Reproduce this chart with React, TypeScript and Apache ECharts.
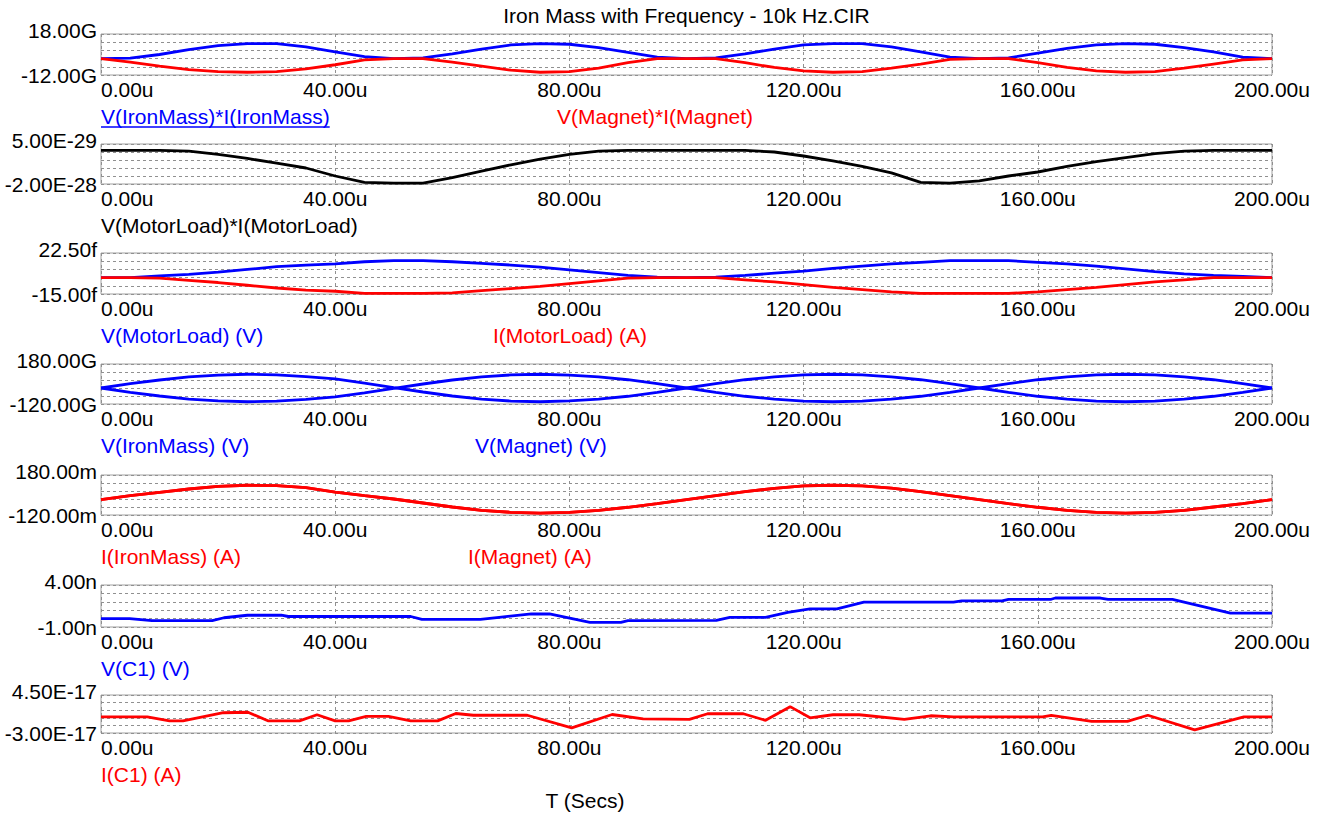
import React, { useEffect, useRef } from "react";
import * as echarts from "echarts";

const W = 1326;
const H = 814;
const FONT = '"Liberation Sans", Arial, Helvetica, sans-serif';
const FS = 21;
const BLUE = "#0000ff";
const RED = "#ff0000";
const BLACK = "#000000";

const TITLE = "Iron Mass with Frequency - 10k Hz.CIR";
const X_TITLE = "T (Secs)";

// time grid (microseconds)
const TIME_US = [0, 5, 10, 15, 20, 25, 30, 35, 40, 45, 50, 55, 60, 65, 70, 75, 80, 85, 90, 95, 100,
  105, 110, 115, 120, 125, 130, 135, 140, 145, 150, 155, 160, 165, 170, 175, 180, 185, 190, 195, 200];

// Panel 1 (G)
const P_IRON_G = [0, 0.3, 3, 6.5, 9.5, 11, 11, 8.5, 5, 1.5, 0, 0.5, 3.5, 7, 10, 11, 10.5, 8, 4.5, 1, 0,
  0.5, 3.5, 7, 10, 11, 11, 8.5, 5, 1, 0, 0.5, 4, 7.5, 10, 11, 10.5, 8, 5, 1, 0];
const P_MAGNET_G = [0, -2.5, -5.5, -8, -9.5, -10, -9.5, -7.5, -4.5, -1, 0, 0, -2.5, -5.5, -8.5, -10, -9.5, -7, -3, 0, 0,
  0, -3, -6.5, -9, -10, -9.5, -7, -4, -0.5, 0, 0, -3, -6.5, -9, -10, -9.5, -7, -4, -1, 0];

// Panel 2 (E-29)
const P_MOTOR_E29 = [1, 1, 1, 0.5, -1.5, -4, -7, -10, -15, -19, -19.5, -19.5, -16, -12, -8, -4.5, -1.5, 0.5, 1, 1, 1,
  1, 1, 0, -2.5, -5.5, -9, -13, -19, -19.5, -18, -15, -12.5, -9, -6, -3.5, -1, 0.5, 1, 1, 1];

// Panel 3 (f)
const V_MOTOR_F = [0, 0, 1.5, 3, 5, 7.5, 10, 11.5, 12.5, 14.5, 15.5, 15.5, 14.5, 13, 11.5, 9.5, 7, 4.5, 2, 0.5, 0,
  0.5, 2, 4, 6, 8.5, 10.5, 12.5, 14, 15.5, 15.5, 15.5, 14, 12.5, 10.5, 8, 5.5, 3.5, 2, 1, 0];
const I_MOTOR_F = [0, 0, -0.5, -2.5, -4.5, -7, -9.5, -11.5, -12.5, -14.5, -14.5, -14.5, -14, -12, -10, -8, -5.5, -3, -0.5, 0, 0,
  0, -2, -4, -6.5, -9, -11, -13, -14.5, -14.5, -14.5, -14.5, -13, -11, -9, -6.5, -4, -2, 0, 0, 0];

// Panel 4 (G)
const V_IRON_G = [0, 33, 60, 83, 97, 103, 98, 85, 68, 36, 2, -30, -60, -84, -98, -103, -97, -84, -62, -33, 0,
  33, 62, 84, 98, 103, 98, 84, 62, 33, 0, -33, -62, -84, -98, -103, -98, -84, -62, -33, 0];
const V_MAGNET_G = [0, -33, -60, -83, -97, -103, -98, -85, -66, -36, -2, 30, 60, 84, 98, 103, 97, 84, 62, 33, 0,
  -33, -62, -84, -98, -103, -98, -84, -62, -33, 0, 33, 62, 84, 98, 103, 98, 84, 62, 33, 0];

// Panel 5 (m)
const I_IRON_M = [-5, 25, 50, 75, 95, 103, 100, 85, 52, 25, 0, -30, -60, -85, -100, -106, -100, -85, -62, -35, -5,
  25, 55, 80, 98, 103, 98, 82, 55, 25, -5, -35, -62, -85, -100, -106, -100, -85, -60, -35, -5];
const I_MAGNET_M = [-5, 25, 50, 75, 95, 103, 100, 85, 52, 25, 0, -30, -60, -85, -100, -106, -100, -85, -62, -35, -5,
  25, 55, 80, 98, 103, 98, 82, 55, 25, -5, -35, -62, -85, -100, -106, -100, -85, -60, -35, -5];

// Panel 6 (n)
const VC1_T = [0, 4.9, 8.7, 19, 21, 25, 30.8, 32, 52.9, 54.8, 64.8, 68, 73.5, 76.6, 83.5, 88.8, 90, 105.1, 107.4, 113.5,
  117.3, 121.1, 125.7, 130.3, 145.6, 147, 153.9, 155, 162.3, 163, 170.7, 172, 183, 192.9, 200];
const VC1_N = [0, 0, -0.25, -0.25, 0.1, 0.4, 0.4, 0.25, 0.25, -0.1, -0.1, 0.15, 0.55, 0.55, -0.45, -0.45, -0.25, -0.2, 0.15, 0.15,
  0.75, 1.15, 1.15, 1.95, 1.95, 2.1, 2.1, 2.3, 2.3, 2.45, 2.45, 2.3, 2.3, 0.65, 0.65];

// Panel 7 (E-17)
const IC1_T = [0, 7.9, 11.7, 14, 20.9, 25.1, 28.5, 33.9, 36.9, 40, 42.3, 45.3, 49.1, 52.9, 57.5, 60.6, 63.6, 72.8, 80.4, 87.3,
  92.6, 100.5, 103.6, 109.7, 113.5, 117.7, 121.1, 125, 129.5, 137.2, 141.7, 145.6, 160.8, 162.3, 169.2, 175.3, 178.8, 186.8, 195.2, 200];
const IC1_E17 = [0.2, 0.2, -0.6, -0.6, 1.0, 1.1, -0.6, -0.6, 0.6, -0.6, -0.6, 0.3, 0.3, -0.6, -0.6, 0.85, 0.5, 0.5, -2.0, 0.65,
  -0.2, -0.3, 0.8, 0.8, -0.5, 2.2, 0, 0.6, 0.6, -0.3, 0.4, 0.2, 0.2, 0.5, -0.7, -0.7, 0.5, -2.4, 0.2, 0.2];

// axes
const X_MIN = 0;
const X_MAX = 200;
const X_STEP = 40;
const Y_MIN = [-12, -20, -15, -120, -120, -1, -3];
const Y_MAX = [18, 5, 22.5, 180, 180, 4, 4.5];
const TOP_LABELS = ["18.00G", "5.00E-29", "22.50f", "180.00G", "180.00m", "4.00n", "4.50E-17"];
const BOTTOM_LABELS = ["-12.00G", "-2.00E-28", "-15.00f", "-120.00G", "-120.00m", "-1.00n", "-3.00E-17"];

// layout
const PLOT_LEFT = 101;
const PLOT_RIGHT = 1272;
const TOPS = [34, 144, 253, 364, 475, 585, 695];
const HEIGHTS = [41, 40, 41, 40, 40, 42, 38];

const LEGENDS = [
  [{ text: "V(IronMass)*I(IronMass)", x: 101, color: BLUE, underline: true }, { text: "V(Magnet)*I(Magnet)", x: 557, color: RED }],
  [{ text: "V(MotorLoad)*I(MotorLoad)", x: 101, color: BLACK }],
  [{ text: "V(MotorLoad) (V)", x: 101, color: BLUE }, { text: "I(MotorLoad) (A)", x: 493, color: RED }],
  [{ text: "V(IronMass) (V)", x: 101, color: BLUE }, { text: "V(Magnet) (V)", x: 475, color: BLUE }],
  [{ text: "I(IronMass) (A)", x: 101, color: RED }, { text: "I(Magnet) (A)", x: 468, color: RED }],
  [{ text: "V(C1) (V)", x: 101, color: BLUE }],
  [{ text: "I(C1) (A)", x: 101, color: RED }],
];

const pairs = (t: number[], v: number[]) => t.map((x, i) => [x, v[i]]);

const PANEL_SERIES = [
  [{ d: pairs(TIME_US, P_IRON_G), c: BLUE }, { d: pairs(TIME_US, P_MAGNET_G), c: RED }],
  [{ d: pairs(TIME_US, P_MOTOR_E29), c: BLACK }],
  [{ d: pairs(TIME_US, V_MOTOR_F), c: BLUE }, { d: pairs(TIME_US, I_MOTOR_F), c: RED }],
  [{ d: pairs(TIME_US, V_IRON_G), c: BLUE }, { d: pairs(TIME_US, V_MAGNET_G), c: BLUE }],
  [{ d: pairs(TIME_US, I_MAGNET_M), c: RED }, { d: pairs(TIME_US, I_IRON_M), c: RED }],
  [{ d: pairs(VC1_T, VC1_N), c: BLUE }],
  [{ d: pairs(IC1_T, IC1_E17), c: RED }],
];

function textWidth(s: string): number {
  const c = document.createElement("canvas");
  const ctx = c.getContext("2d");
  if (!ctx) return s.length * 10;
  ctx.font = `${FS}px ${FONT}`;
  return ctx.measureText(s).width;
}

export default function App() {
  const ref = useRef<HTMLDivElement>(null);
  useEffect(() => {
    if (!ref.current) return;
    const chart = echarts.init(ref.current, undefined, { renderer: "svg" });
    const grids = TOPS.map((top, i) => ({
      left: PLOT_LEFT,
      right: W - PLOT_RIGHT,
      top,
      height: HEIGHTS[i],
      show: true,
      borderColor: "#a0a0a0",
      borderWidth: 1,
      backgroundColor: "#ffffff",
    }));
    const dashed = { show: true, lineStyle: { color: "#909090", type: [3, 3] as any, width: 1 } };
    const xAxes = TOPS.map((_, i) => ({
      type: "value",
      gridIndex: i,
      min: X_MIN,
      max: X_MAX,
      interval: X_STEP,
      axisLine: { show: false },
      axisTick: { show: false },
      splitLine: dashed,
      axisLabel: {
        show: true,
        margin: 4,
        color: "#000",
        fontFamily: FONT,
        fontSize: FS,
        alignMinLabel: "left",
        formatter: (v: number) => v.toFixed(2) + "u",
      },
    }));
    const yAxes = TOPS.map((_, i) => ({
      type: "value",
      gridIndex: i,
      min: Y_MIN[i],
      max: Y_MAX[i],
      interval: (Y_MAX[i] - Y_MIN[i]) / 5,
      axisLine: { show: false },
      axisTick: { show: false },
      splitLine: dashed,
      axisLabel: {
        show: true,
        margin: 4,
        color: "#000",
        fontFamily: FONT,
        fontSize: FS,
        showMinLabel: true,
        showMaxLabel: true,
        formatter: (v: number) =>
          Math.abs(v - Y_MAX[i]) < 1e-9 ? `{t|${TOP_LABELS[i]}}` : Math.abs(v - Y_MIN[i]) < 1e-9 ? BOTTOM_LABELS[i] : "",
        rich: { t: { fontFamily: FONT, fontSize: FS, color: "#000", padding: [0, 0, 8, 0] } },
      },
    }));
    const series: any[] = [];
    PANEL_SERIES.forEach((list, i) => {
      list.forEach((s) => {
        series.push({
          type: "line",
          xAxisIndex: i,
          yAxisIndex: i,
          data: s.d,
          showSymbol: false,
          symbol: "none",
          lineStyle: { color: s.c, width: 2.8 },
          itemStyle: { color: s.c },
          z: 3,
        });
      });
    });
    const graphic: any[] = [
      {
        type: "text",
        x: (PLOT_LEFT + PLOT_RIGHT) / 2,
        y: 15,
        style: { text: TITLE, fill: "#000", fontFamily: FONT, fontSize: FS, align: "center", verticalAlign: "middle" },
      },
      {
        type: "text",
        x: 585,
        y: 800,
        style: { text: X_TITLE, fill: "#000", fontFamily: FONT, fontSize: FS, align: "center", verticalAlign: "middle" },
      },
    ];
    LEGENDS.forEach((list, i) => {
      const y = TOPS[i] + HEIGHTS[i] + 41;
      list.forEach((l: any) => {
        graphic.push({
          type: "text",
          x: l.x,
          y,
          style: { text: l.text, fill: l.color, fontFamily: FONT, fontSize: FS, align: "left", verticalAlign: "middle" },
        });
        if (l.underline) {
          const w = textWidth(l.text);
          graphic.push({
            type: "line",
            shape: { x1: l.x, y1: y + 11, x2: l.x + w, y2: y + 11 },
            style: { stroke: l.color, lineWidth: 1.5 },
          });
        }
      });
    });
    chart.setOption({
      animation: false,
      backgroundColor: "#ffffff",
      grid: grids,
      xAxis: xAxes,
      yAxis: yAxes,
      series,
      graphic,
    });
    return () => chart.dispose();
  }, []);
  return <div ref={ref} style={{ position: "fixed", left: 0, top: 0, width: W, height: H, background: "#fff" }} />;
}
